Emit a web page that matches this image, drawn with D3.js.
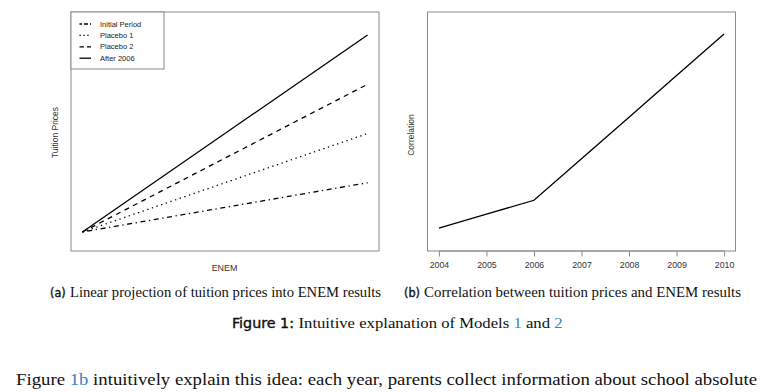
<!DOCTYPE html>
<html><head><meta charset="utf-8">
<script src="https://cdn.jsdelivr.net/npm/d3@7/dist/d3.min.js"></script>
<style>html,body{margin:0;padding:0;background:#fff;}svg{display:block;}</style>
</head><body>
<script>
// ---- data ----
const enemX = [0, 1];
const seriesNames = ["Initial Period", "Placebo 1", "Placebo 2", "After 2006"];
const initialPeriod = [0, 1];
const placebo1 = [0, 2];
const placebo2 = [0, 3];
const after2006 = [0, 4];
const years = [2004, 2005, 2006, 2007, 2008, 2009, 2010];
const correlation = [1, 2, 3, 6, 9, 12, 15];
const yearTicks = ["2004", "2005", "2006", "2007", "2008", "2009", "2010"];

const W = 778, H = 392;
const svg = d3.select("body").append("svg").attr("width", W).attr("height", H);
const sans = "'Liberation Sans', Arial, sans-serif";
const serif = "'Liberation Serif', 'DejaVu Serif', serif";
const capSans = "'DejaVu Sans Condensed', 'DejaVu Sans', sans-serif";

const dashes = ["1.3,3.6,5,3.6", "1.3,3.6", "5,4.5", null];
const legendDashes = ["2.5,2,4,2", "1.3,2.6", "4.5,3", null];
const seriesVals = [initialPeriod, placebo1, placebo2, after2006];

// ---- panel a ----
const ax = d3.scaleLinear().domain([-0.04, 1.04]).range([71, 379]);
const ay = d3.scaleLinear().domain([-0.386, 4.467]).range([251, 12]);
const ga = svg.append("g");
ga.append("rect").attr("x", ax.range()[0]).attr("y", ay.range()[1])
  .attr("width", ax.range()[1] - ax.range()[0]).attr("height", ay.range()[0] - ay.range()[1])
  .attr("fill", "none").attr("stroke", "#8a8a8a").attr("stroke-width", 1);
const lineA = d3.line().x((d, i) => ax(enemX[i])).y(d => ay(d));
seriesVals.forEach((vals, k) => {
  ga.append("path").datum(vals).attr("d", lineA).attr("fill", "none")
    .attr("stroke", "#000").attr("stroke-width", 1.3)
    .attr("stroke-dasharray", dashes[k]);
});
// legend
const lg = ga.append("g");
lg.append("rect").attr("x", 71).attr("y", 12).attr("width", 93).attr("height", 57)
  .attr("fill", "#fff").attr("stroke", "#8a8a8a").attr("stroke-width", 1);
seriesNames.forEach((name, k) => {
  const yy = 24 + k * 11.4;
  lg.append("line").attr("x1", 79.5).attr("x2", 91).attr("y1", yy).attr("y2", yy)
    .attr("stroke", "#000").attr("stroke-width", 1.3).attr("stroke-dasharray", legendDashes[k]);
  lg.append("text").attr("x", 100).attr("y", yy + 2.6).text(name)
    .attr("font-family", sans).attr("font-size", 7.5).attr("fill", "#222");
});
ga.append("text").attr("x", 224.5).attr("y", 271).attr("text-anchor", "middle")
  .text("ENEM").attr("font-family", sans).attr("font-size", 8.9).attr("fill", "#333");
ga.append("text").attr("transform", "translate(58,132.5) rotate(-90)").attr("text-anchor", "middle")
  .text("Tuition Prices").attr("font-family", sans).attr("font-size", 8.5).attr("fill", "#333");

// ---- panel b ----
const bx = d3.scaleLinear().domain([2003.76, 2010.24]).range([427.5, 735.5]);
const by = d3.scaleLinear().domain([-0.66, 16.59]).range([251, 12]);
const gb = svg.append("g");
gb.append("rect").attr("x", bx.range()[0]).attr("y", by.range()[1])
  .attr("width", bx.range()[1] - bx.range()[0]).attr("height", by.range()[0] - by.range()[1])
  .attr("fill", "none").attr("stroke", "#8a8a8a").attr("stroke-width", 1);
const axisB = d3.axisBottom(bx).tickValues(years).tickFormat((d, i) => yearTicks[i])
  .tickSize(5.5).tickPadding(5.5);
const gAx = gb.append("g").attr("transform", `translate(0,${by.range()[0]})`).call(axisB);
gAx.select(".domain").attr("d", `M${bx(2004)},0H${bx(2010)}`).attr("stroke", "#8a8a8a");
gAx.selectAll(".tick line").attr("stroke", "#8a8a8a");
gAx.selectAll(".tick text").attr("font-family", sans).attr("font-size", 8.8).attr("fill", "#333");
const lineB = d3.line().x((d, i) => bx(years[i])).y(d => by(d));
gb.append("path").datum(correlation).attr("d", lineB).attr("fill", "none")
  .attr("stroke", "#000").attr("stroke-width", 1.3);
gb.append("text").attr("transform", "translate(413.5,135) rotate(-90)").attr("text-anchor", "middle")
  .text("Correlation").attr("font-family", sans).attr("font-size", 8.5).attr("fill", "#333");

// ---- captions ----
const ink = "#111", blue = "#3a7fc9";
function sub(x0, tag, x1, x2, y, body) {
  svg.append("text").attr("x", x0).attr("y", y).text(tag)
    .attr("font-family", capSans).attr("font-size", 12.5).attr("fill", ink)
    .attr("stroke", ink).attr("stroke-width", 0.35);
  svg.append("text").attr("x", x1).attr("y", y).text(body)
    .attr("font-family", serif).attr("font-size", 15).attr("fill", ink)
    .attr("textLength", x2 - x1).attr("lengthAdjust", "spacingAndGlyphs");
}
sub(50, "(a)", 70, 381, 296.5, "Linear projection of tuition prices into ENEM results");
sub(404, "(b)", 424, 741, 296.5, "Correlation between tuition prices and ENEM results");

svg.append("text").attr("x", 232).attr("y", 328).text("Figure 1:")
  .attr("font-family", capSans).attr("font-size", 13.5).attr("fill", ink)
  .attr("stroke", ink).attr("stroke-width", 0.35)
  .attr("textLength", 62).attr("lengthAdjust", "spacingAndGlyphs");
const fc = svg.append("text").attr("x", 298.5).attr("y", 328)
  .attr("font-family", serif).attr("font-size", 15).attr("fill", ink)
  .attr("textLength", 264).attr("lengthAdjust", "spacingAndGlyphs");
fc.append("tspan").text("Intuitive explanation of Models ");
fc.append("tspan").attr("fill", blue).text("1");
fc.append("tspan").text(" and ");
fc.append("tspan").attr("fill", blue).text("2");

const bt = svg.append("text").attr("x", 16).attr("y", 385)
  .attr("font-family", serif).attr("font-size", 17.5).attr("fill", ink)
  .attr("textLength", 741).attr("lengthAdjust", "spacingAndGlyphs");
bt.append("tspan").text("Figure ");
bt.append("tspan").attr("fill", blue).text("1b");
bt.append("tspan").text(" intuitively explain this idea:  each year, parents collect information about school absolute");
</script>
</body></html>
